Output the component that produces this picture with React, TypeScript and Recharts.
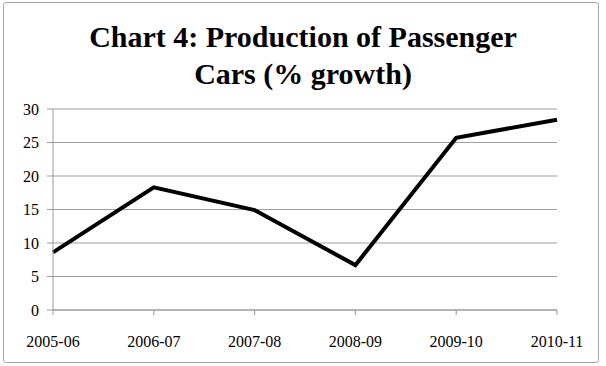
import { LineChart, Line, XAxis, YAxis, CartesianGrid } from 'recharts';

const years = ['2005-06', '2006-07', '2007-08', '2008-09', '2009-10', '2010-11'];
const growth = [8.6, 18.3, 14.9, 6.7, 25.7, 28.4];
const yTicks = [0, 5, 10, 15, 20, 25, 30];

const data = years.map((year, i) => ({ year, growth: growth[i] }));

const serif = '"Liberation Serif", "Times New Roman", serif';

export default function App() {
  return (
    <div style={{ position: 'absolute', left: 0, top: 0, width: 606, height: 366, background: '#fff' }}>
      {/* outer frame */}
      <div
        style={{
          position: 'absolute',
          left: 3,
          top: 2,
          width: 596,
          height: 361,
          border: '1.5px solid #a6a6a6',
          borderRadius: 3,
          boxSizing: 'border-box',
        }}
      />
      <div
        style={{
          position: 'absolute',
          left: 0,
          top: 18,
          width: 606,
          textAlign: 'center',
          fontFamily: serif,
          fontWeight: 'bold',
          fontSize: 30,
          lineHeight: '37px',
          color: '#000',
        }}
      >
        Chart 4: Production of Passenger
        <br />
        Cars (% growth)
      </div>
      <LineChart
        width={606}
        height={366}
        data={data}
        margin={{ top: 109, right: 49, bottom: 16, left: 0 }}
      >
        <CartesianGrid vertical={false} stroke="#a0a0a0" strokeWidth={1.2} />
        <XAxis
          dataKey="year"
          height={40}
          stroke="#999"
          tickSize={5}
          tickMargin={21}
          tick={{ fill: '#000', fontFamily: serif, fontSize: 16 }}
          interval={0}
        />
        <YAxis
          domain={[0, 30]}
          ticks={yTicks}
          width={53}
          stroke="#999"
          tickSize={6}
          tickMargin={8}
          tick={{ fill: '#000', fontFamily: serif, fontSize: 16 }}
        />
        <Line
          type="linear"
          dataKey="growth"
          stroke="#000"
          strokeWidth={4}
          dot={false}
          isAnimationActive={false}
        />
      </LineChart>
    </div>
  );
}
